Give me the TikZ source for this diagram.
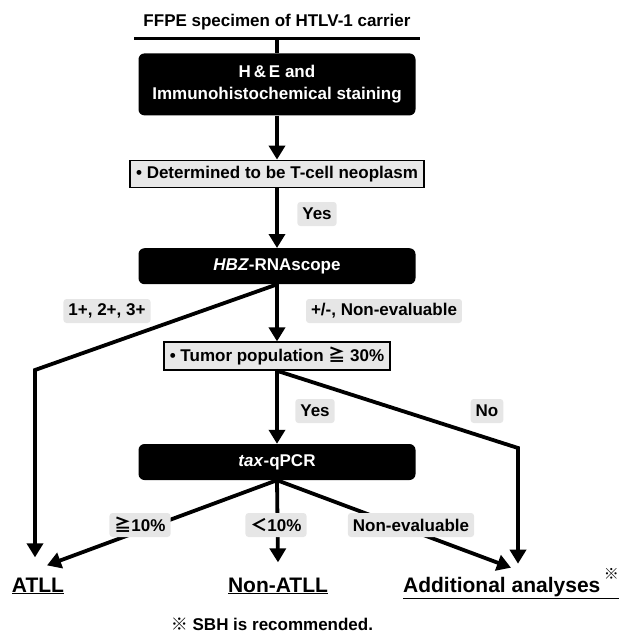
\documentclass[tikz,border=0pt]{standalone}
\usepackage{fontspec}
\setmainfont{Liberation Sans}
\newfontfamily\jpfont{Noto Sans CJK JP}
\usetikzlibrary{positioning, calc, arrows.meta}
\definecolor{LabelGray}{RGB}{230, 230, 230}
\definecolor{BoxGray}{RGB}{232, 232, 232}

\begin{document}
\begin{tikzpicture}[
  x=1pt, y=-1pt,
  font=\fontsize{17}{20}\selectfont\bfseries,
  blackbox/.style={%
    rectangle, rounded corners=6pt,
    fill=black, text=white,
    minimum width=277pt, minimum height=36pt,
    align=center, inner sep=0pt},
  graybox/.style={%
    rectangle, fill=BoxGray, draw=black, line width=1.4pt,
    minimum height=27pt, inner xsep=6pt, inner ysep=0pt},
  lab/.style={%
    rectangle, rounded corners=3pt, fill=LabelGray,
    minimum height=24pt, inner xsep=5pt, inner ysep=0pt},
  outcome/.style={font=\fontsize{21}{24}\selectfont\bfseries, inner sep=0pt, anchor=base},
  conn/.style={line width=3.8pt},
  arr/.style={-{Triangle[length=14pt, width=16pt]}, line width=3.8pt}
]
\useasboundingbox (0,0) rectangle (619,634);

% main column
\node[anchor=base, inner sep=0pt, text depth=11pt, minimum width=285pt] (title) at (277,27)
  {FFPE specimen of HTLV-1 carrier};
\node[blackbox, minimum height=62pt, below=15pt of title, font=\fontsize{17}{22}\selectfont\bfseries] (he)
  {H\,\&\,E and\\Immunohistochemical staining};
\node[graybox, below=44pt of he]    (det)   {\textbullet\ Determined to be T-cell neoplasm};
\node[blackbox, below=60pt of det]  (hbz)   {\textit{HBZ}-RNAscope};
\node[graybox, minimum height=28pt, below=57pt of hbz] (tumor) {\textbullet\ Tumor population {\jpfont ≧} 30\%};
\node[blackbox, below=73pt of tumor] (tax)  {\textit{tax}-qPCR};

% outcomes
\node[outcome] (atll)    at (38,592)  {\underline{ATLL}};
\node[outcome] (nonatll) at (278,592) {\underline{Non-ATLL}};
\node[outcome] (addl)    at (511,592)
  {\underline{Additional analyses\,\raisebox{13pt}{\fontsize{15}{15}\selectfont\jpfont ※}}};
\node[inner sep=0pt] (note) at (272,624) {{\jpfont ※} SBH is recommended.};

\coordinate (bendL) at (35,370);
\coordinate (bendR) at (518,448);

\draw[line width=3pt] (title.south west) -- (title.south east);
\draw[conn] (title.south) -- (he.north);
\draw[arr] (he)  -- (det);
\draw[arr] (det) -- (hbz);
\draw[arr] (hbz) -- (tumor);
\draw[arr] (hbz.south) -- (bendL) -- ([yshift=20pt]bendL |- atll.north);
\draw[arr] (tumor) -- (tax);
\draw[arr] (tumor.south) -- (bendR) -- ([yshift=4pt]bendR |- addl.north);
\draw[arr] (tax.south) -- ($(atll.north)+(9,-12)$);
\draw[arr] (tax.south) -- ([yshift=15pt]nonatll.north);
\draw[arr] (tax.south) -- (addl.north);

% branch labels, on top of the lines
\node[lab] (yesA) at (317,214) {Yes};
\node[lab] (pos)  at (107,311) {1+, 2+, 3+};
\node[lab] (neg)  at (384,311) {+/-, Non-evaluable};
\node[lab] (yesB) at (315,411) {Yes};
\node[lab] (no)   at (487,411) {No};
\node[lab] (hi)   at (140,525) {{\jpfont ≧}10\%};
\node[lab] (lo)   at (276,525) {{\jpfont ＜}10\%};
\node[lab] (nev)  at (411,525) {Non-evaluable};
\end{tikzpicture}
\end{document}
